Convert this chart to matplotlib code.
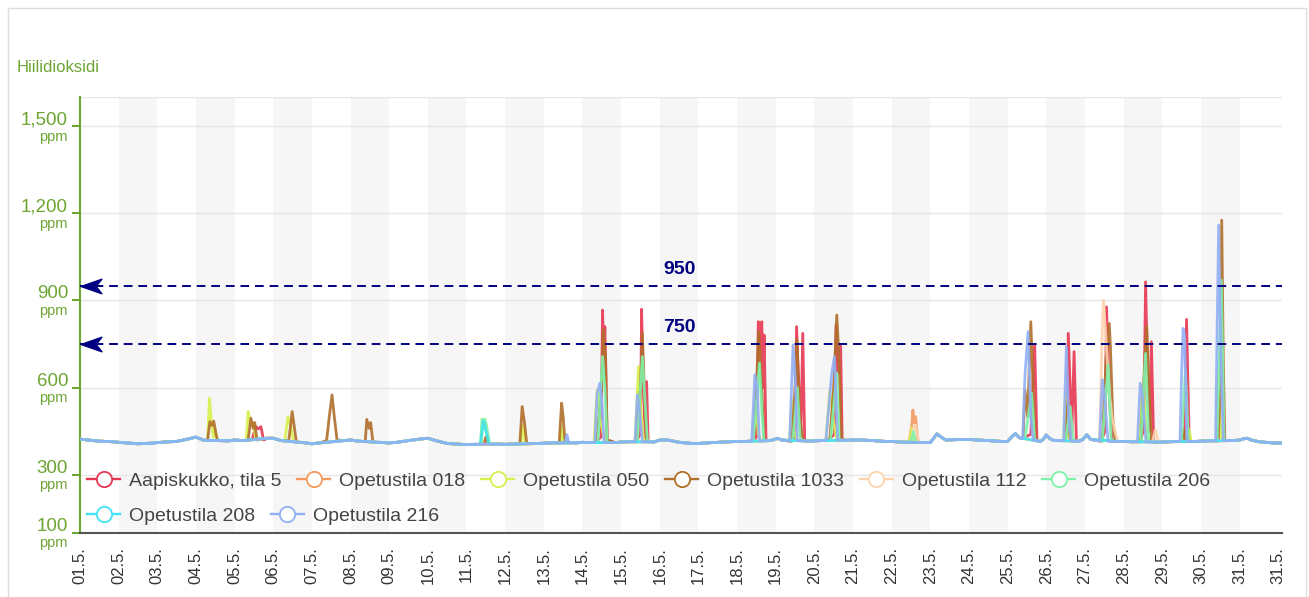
import matplotlib
matplotlib.use("Agg")
import matplotlib.pyplot as plt
import matplotlib.transforms as mtransforms
from matplotlib.lines import Line2D
from matplotlib.path import Path
from matplotlib.patches import Rectangle

plt.rcParams['font.family'] = ['Liberation Sans', 'DejaVu Sans']

# x = day index (0 = 01.5.)
day_labels = ["01.5.", "02.5.", "03.5.", "04.5.", "05.5.", "06.5.", "07.5.", "08.5.",
              "09.5.", "10.5.", "11.5.", "12.5.", "13.5.", "14.5.", "15.5.", "16.5.",
              "17.5.", "18.5.", "19.5.", "20.5.", "21.5.", "22.5.", "23.5.", "24.5.",
              "25.5.", "26.5.", "27.5.", "28.5.", "29.5.", "30.5.", "31.5.", "31.5."]
y_ticks = [100, 300, 600, 900, 1200, 1500]
y_tick_labels = ["100", "300", "600", "900", "1,200", "1,500"]
limits = [950, 750]

# common baseline (ppm)
base_t = [0.0, 0.2, 0.5, 0.85, 1.0, 1.2, 1.5, 1.85, 2.0, 2.2, 2.5, 2.85, 3.0, 3.2, 3.85,
          4.0, 4.2, 4.85, 5.0, 5.2, 5.85, 6.0, 6.2, 6.85, 7.0, 7.2, 7.85, 8.0, 8.2, 8.5,
          8.85, 9.0, 9.2, 9.5, 9.85, 10.0, 10.2, 10.85, 11.0, 11.2, 11.85, 12.0, 12.2,
          12.85, 13.0, 13.2, 13.85, 14.0, 14.2, 14.85, 15.0, 15.2, 15.5, 15.85, 16.0,
          16.2, 16.5, 16.85, 17.0, 17.2, 17.85, 17.95, 18.05, 18.15, 18.85, 19.0, 19.2,
          19.85, 20.0, 20.2, 20.5, 20.85, 21.0, 21.2, 21.85, 22.0, 22.08, 22.17, 22.28,
          22.4, 22.85, 23.0, 23.2, 23.5, 23.85, 24.0, 24.1, 24.2, 24.3, 24.85, 24.92,
          25.0, 25.1, 25.2, 25.85, 25.95, 26.05, 26.15, 26.9, 27.0, 27.2, 27.95, 28.0,
          28.2, 28.85, 29.0, 29.2, 29.85, 30.0, 30.1, 30.2, 30.3, 30.5, 30.85, 31.1]
base_v = [423, 420, 416, 414, 412, 410, 407, 409, 411, 413, 415, 425, 430, 419, 417,
          420, 418, 426, 426, 418, 410, 407, 410, 418, 420, 416, 411, 410, 412, 418,
          424, 426, 418, 408, 405, 404, 405, 406, 405, 406, 408, 409, 410,
          410, 412, 411, 411, 413, 414, 413, 420, 420, 412, 408, 408,
          410, 412, 414, 415, 415, 418, 421, 426, 420, 416, 417, 418,
          419, 420, 420, 418, 415, 415, 413, 411, 411, 425, 441, 430,
          420, 422, 422, 420, 418, 415, 415, 430, 442, 428, 415, 422,
          437, 424, 418, 416, 422, 438, 422, 415, 415, 414, 413, 413,
          414, 415, 416, 417, 418, 420, 424, 426, 420, 414, 410, 409]

# peak episodes per room: (day index, ppm)
peaks_aapiskukko = [
    [(4.45, 420), (4.55, 466), (4.62, 458), (4.68, 466), (4.75, 420)],
    [(13.33, 412), (13.48, 430), (13.52, 867), (13.55, 720), (13.58, 810), (13.64, 420)],
    [(14.38, 414), (14.5, 440), (14.53, 870), (14.57, 640), (14.62, 430), (14.66, 621), (14.7, 416)],
    [(17.4, 416), (17.5, 430), (17.55, 827), (17.6, 700), (17.64, 827), (17.67, 600), (17.7, 781), (17.75, 418)],
    [(18.4, 416), (18.5, 430), (18.54, 810), (18.6, 600), (18.65, 430), (18.7, 787), (18.75, 418)],
    [(19.35, 419), (19.52, 440), (19.56, 815), (19.62, 650), (19.68, 747), (19.72, 420)],
    [(24.4, 425), (24.6, 440), (24.7, 747), (24.76, 418)],
    [(25.45, 418), (25.53, 440), (25.57, 787), (25.62, 600), (25.66, 440), (25.72, 724), (25.78, 416)],
    [(26.42, 416), (26.52, 450), (26.56, 878), (26.62, 600), (26.7, 415)],
    [(27.4, 414), (27.52, 450), (27.57, 964), (27.62, 650), (27.68, 450), (27.72, 758), (27.78, 413)],
    [(28.48, 415), (28.58, 440), (28.63, 835), (28.7, 415)],
]
peaks_018 = [
    [(21.45, 413), (21.52, 470), (21.55, 523), (21.58, 480), (21.62, 500), (21.68, 412)],
]
peaks_050 = [
    [(3.3, 418), (3.35, 564), (3.4, 480), (3.45, 430), (3.5, 455), (3.55, 418)],
    [(4.3, 418), (4.35, 518), (4.42, 470), (4.48, 480), (4.55, 420)],
    [(5.3, 418), (5.38, 500), (5.45, 470), (5.52, 415)],
    [(10.38, 405), (10.42, 490), (10.5, 470), (10.58, 406)],
    [(11.4, 406), (11.44, 470), (11.52, 406)],
    [(12.42, 410), (12.45, 466), (12.5, 412)],
    [(13.3, 412), (13.38, 592), (13.45, 500), (13.52, 450), (13.6, 412)],
    [(14.36, 414), (14.45, 672), (14.5, 550), (14.58, 420)],
    [(17.4, 416), (17.48, 550), (17.55, 440), (17.62, 416)],
    [(18.36, 416), (18.42, 558), (18.48, 450), (18.55, 418)],
    [(19.3, 420), (19.4, 592), (19.5, 480), (19.58, 420)],
    [(21.45, 413), (21.52, 462), (21.6, 413)],
    [(25.45, 418), (25.5, 581), (25.56, 450), (25.62, 416)],
    [(27.4, 414), (27.5, 611), (27.6, 430), (27.7, 413)],
    [(28.55, 415), (28.7, 455), (28.75, 415)],
    [(29.4, 417), (29.46, 650), (29.52, 430), (29.58, 418)],
]
peaks_1033 = [
    [(3.3, 418), (3.36, 483), (3.42, 470), (3.46, 485), (3.52, 440), (3.56, 418)],
    [(4.35, 418), (4.42, 495), (4.48, 460), (4.52, 480), (4.58, 420)],
    [(5.4, 418), (5.45, 470), (5.49, 518), (5.55, 460), (5.6, 412)],
    [(6.38, 418), (6.45, 500), (6.52, 575), (6.58, 500), (6.65, 420)],
    [(7.38, 414), (7.42, 491), (7.48, 460), (7.52, 480), (7.58, 412)],
    [(10.45, 405), (10.5, 430), (10.56, 405)],
    [(11.38, 406), (11.44, 535), (11.5, 480), (11.56, 407)],
    [(12.4, 410), (12.46, 547), (12.5, 500), (12.55, 412)],
    [(13.36, 412), (13.5, 600), (13.54, 800), (13.6, 700), (13.64, 420)],
    [(14.4, 414), (14.5, 600), (14.55, 787), (14.6, 600), (14.66, 416)],
    [(17.42, 416), (17.5, 600), (17.56, 792), (17.62, 650), (17.7, 420)],
    [(18.42, 416), (18.5, 600), (18.55, 764), (18.62, 500), (18.7, 418)],
    [(19.4, 420), (19.5, 600), (19.58, 850), (19.64, 700), (19.7, 420)],
    [(24.4, 425), (24.45, 592), (24.52, 500), (24.6, 827), (24.66, 600), (24.72, 420)],
    [(25.5, 418), (25.56, 560), (25.62, 420)],
    [(26.45, 416), (26.55, 700), (26.63, 821), (26.66, 741), (26.72, 500), (26.78, 415)],
    [(27.45, 414), (27.55, 700), (27.6, 810), (27.66, 600), (27.72, 413)],
    [(28.5, 415), (28.55, 455), (28.6, 415)],
    [(29.45, 417), (29.5, 600), (29.54, 1176), (29.58, 700), (29.62, 418)],
]
peaks_112 = [
    [(21.5, 413), (21.56, 460), (21.62, 470), (21.7, 412)],
    [(26.38, 416), (26.45, 800), (26.48, 901), (26.55, 760), (26.62, 600), (26.7, 500), (26.78, 450), (26.85, 415)],
    [(27.75, 413), (27.82, 455), (27.9, 413)],
]
peaks_206 = [
    [(10.36, 405), (10.4, 491), (10.48, 491), (10.53, 460), (10.6, 406)],
    [(13.4, 412), (13.52, 707), (13.58, 600), (13.64, 412)],
    [(14.42, 414), (14.55, 707), (14.62, 550), (14.68, 416)],
    [(17.42, 416), (17.58, 684), (17.65, 500), (17.7, 416)],
    [(18.44, 416), (18.56, 600), (18.63, 430), (18.68, 418)],
    [(19.42, 420), (19.58, 650), (19.64, 420)],
    [(21.5, 413), (21.56, 449), (21.62, 413)],
    [(24.45, 425), (24.62, 581), (24.7, 420)],
    [(25.5, 418), (25.62, 535), (25.7, 416)],
    [(26.45, 416), (26.6, 678), (26.68, 416)],
    [(27.45, 414), (27.57, 718), (27.65, 413)],
    [(28.5, 415), (28.6, 661), (28.68, 415)],
    [(29.42, 417), (29.53, 970), (29.6, 418)],
]
peaks_208 = [
    [(10.36, 405), (10.44, 485), (10.52, 440), (10.58, 406)],
]
peaks_216 = [
    [(12.55, 410), (12.6, 438), (12.65, 410)],
    [(13.32, 412), (13.38, 582), (13.45, 615), (13.5, 560), (13.56, 412)],
    [(14.36, 414), (14.42, 575), (14.48, 520), (14.55, 414)],
    [(17.38, 416), (17.46, 644), (17.52, 600), (17.58, 416)],
    [(18.36, 416), (18.45, 747), (18.5, 650), (18.56, 418)],
    [(19.3, 420), (19.45, 650), (19.52, 707), (19.6, 420)],
    [(24.39, 425), (24.45, 644), (24.53, 793), (24.6, 500), (24.66, 420)],
    [(25.45, 418), (25.52, 741), (25.58, 500), (25.64, 416)],
    [(26.38, 416), (26.45, 627), (26.52, 550), (26.6, 415)],
    [(27.36, 414), (27.43, 615), (27.5, 560), (27.58, 413)],
    [(28.46, 415), (28.5, 638), (28.54, 804), (28.58, 780), (28.64, 415)],
    [(29.38, 417), (29.46, 1159), (29.52, 700), (29.58, 418)],
]

rooms = ["Aapiskukko, tila 5", "Opetustila 018", "Opetustila 050", "Opetustila 1033",
         "Opetustila 112", "Opetustila 206", "Opetustila 208", "Opetustila 216"]
room_peaks = [peaks_aapiskukko, peaks_018, peaks_050, peaks_1033,
              peaks_112, peaks_206, peaks_208, peaks_216]
colors = ['#e63752', '#f39b5f', '#d8f04e', '#b06e2a', '#fdd3ae', '#7ef2aa', '#3fe3f3', '#92aff5']

green = '#6da533'
navy = '#000080'


def build(events):
    pts = [(t, v) for t, v in zip(base_t, base_v)
           if not any(e[0][0] <= t <= e[-1][0] for e in events)]
    for e in events:
        pts += e
    pts.sort()
    return [p[0] for p in pts], [p[1] for p in pts]


fig = plt.figure(figsize=(13.09, 5.97), dpi=100)
ax = fig.add_axes([80 / 1309, 64 / 597, 1202 / 1309, 436 / 597])

# card border + title
fig.patches.append(Rectangle((8 / 1309, -0.05), 1298 / 1309, 1 - 8 / 597 + 0.05,
                             transform=fig.transFigure, fill=False,
                             edgecolor='#dddddd', lw=1))
fig.text(17 / 1309, 1 - 67 / 597, "Hiilidioksidi", color=green, fontsize=12, va='center')

# alternating day bands
for i in range(1, len(day_labels) - 1, 2):
    ax.axvspan(i, i + 1, color='#f6f6f6', lw=0, zorder=0)

for y in y_ticks[1:] + [1600]:
    ax.axhline(y, color='#e6e6e6', lw=1, zorder=1)

for name, ev, c in zip(rooms, room_peaks, colors):
    t, v = build(ev)
    ax.plot(t, v, color=c, lw=2.0, alpha=0.9, zorder=3)

# limit lines with arrowheads
arrow = Path([(-1, 0), (1, 0.7), (0.45, 0), (1, -0.7), (-1, 0)],
             [Path.MOVETO, Path.LINETO, Path.LINETO, Path.LINETO, Path.CLOSEPOLY])
blend = mtransforms.blended_transform_factory(ax.transAxes, ax.transData)
for lim in limits:
    ax.axhline(lim, color=navy, lw=1.4, dashes=(4.5, 3), zorder=4)
    ax.plot([10.5 / 1202], [lim], transform=blend, marker=arrow, markersize=15,
            color=navy, zorder=5, clip_on=False)
    ax.annotate(str(lim), (15.52, lim), xytext=(0, 6), textcoords='offset points',
                ha='center', va='bottom', color=navy, fontsize=14, fontweight='bold')

ax.set_xlim(0, 1202 / 38.65)
ax.set_ylim(100, 1600)

ax.set_xticks(range(len(day_labels)))
ax.set_xticklabels(day_labels, rotation=90, fontsize=12, color='#333333')
ax.tick_params(axis='x', length=0, pad=10)

ax.set_yticks(y_ticks)
ax.set_yticklabels([])
ax.tick_params(axis='y', length=6, width=1.5, color=green)
for y, lab in zip(y_ticks, y_tick_labels):
    up = mtransforms.ScaledTranslation(0, 0.065, fig.dpi_scale_trans)
    dn = mtransforms.ScaledTranslation(0, -0.105, fig.dpi_scale_trans)
    ax.text(-12 / 1202, y, lab, transform=blend + up, ha='right', va='center',
            color=green, fontsize=13.5)
    ax.text(-12 / 1202, y, "ppm", transform=blend + dn, ha='right', va='center',
            color=green, fontsize=10.5)

for s in ['top', 'right']:
    ax.spines[s].set_visible(False)
ax.spines['left'].set_color(green)
ax.spines['left'].set_linewidth(1.5)
ax.spines['bottom'].set_color('#555555')
ax.spines['bottom'].set_linewidth(1.5)

handles = [Line2D([], [], color=c, lw=1.7, marker='o', markersize=11,
                  markerfacecolor='white', markeredgecolor=c, markeredgewidth=1.3)
           for c in colors]
leg_kw = dict(frameon=False, fontsize=14, labelcolor='#444444', handlelength=1.7,
              handletextpad=0.45, columnspacing=0.82, borderpad=0, borderaxespad=0,
              loc='center left')
leg1 = ax.legend(handles[:6], rooms[:6], ncol=6, bbox_to_anchor=(7 / 1202, 52 / 436), **leg_kw)
ax.add_artist(leg1)
ax.legend(handles[6:], rooms[6:], ncol=2, bbox_to_anchor=(7 / 1202, 17 / 436), **leg_kw)

fig.savefig("out.png", dpi=100)
